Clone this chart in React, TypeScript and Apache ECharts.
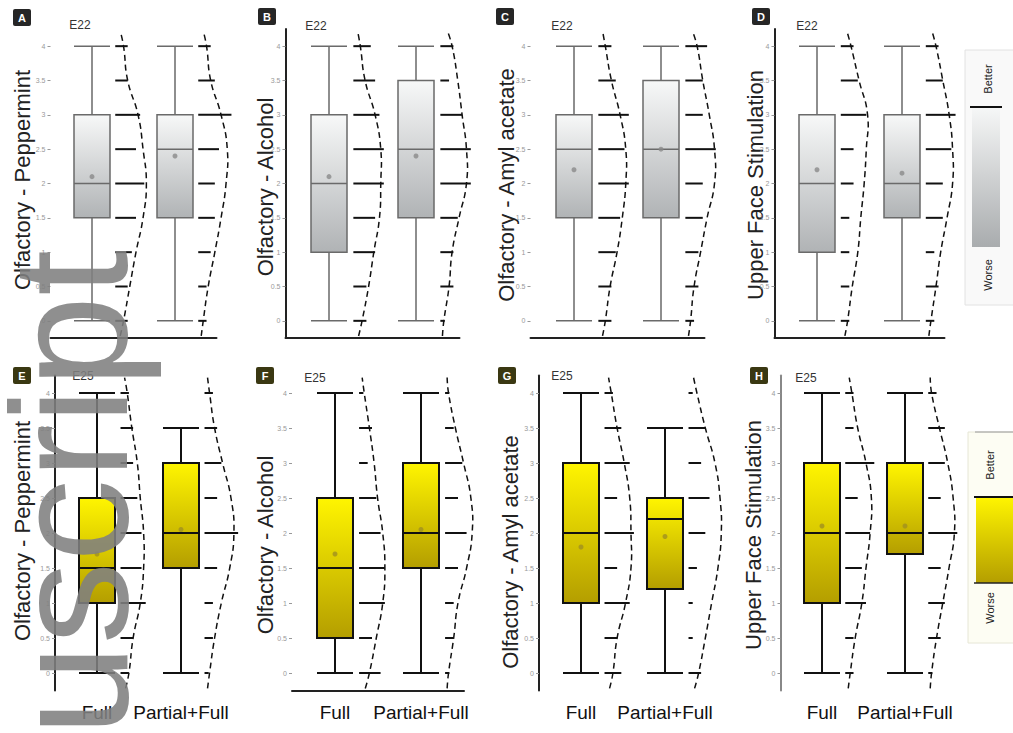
import React, { useEffect, useRef } from 'react';
import * as echarts from 'echarts';

// ---------- data ----------
const categories = ['Full', 'Partial+Full'];
const levels = [0, 0.5, 1, 1.5, 2, 2.5, 3, 3.5, 4];
const panelIds = ['A', 'B', 'C', 'D', 'E', 'F', 'G', 'H'];
const cohorts = ['E22', 'E22', 'E22', 'E22', 'E25', 'E25', 'E25', 'E25'];
const yTitles = [
  'Olfactory - Peppermint', 'Olfactory - Alcohol', 'Olfactory - Amyl acetate', 'Upper Face Stimulation',
  'Olfactory - Peppermint', 'Olfactory - Alcohol', 'Olfactory - Amyl acetate', 'Upper Face Stimulation',
];

// [min, Q1, median, Q3, max] for Full, Partial+Full
const boxA = [[0, 1.5, 2, 3, 4], [0, 1.5, 2.5, 3, 4]];
const boxB = [[0, 1, 2, 3, 4], [0, 1.5, 2.5, 3.5, 4]];
const boxC = [[0, 1.5, 2.5, 3, 4], [0, 1.5, 2.5, 3.5, 4]];
const boxD = [[0, 1, 2, 3, 4], [0, 1.5, 2, 3, 4]];
const boxE = [[0, 1, 1.5, 2.5, 4], [0, 1.5, 2, 3, 3.5]];
const boxF = [[0, 0.5, 1.5, 2.5, 4], [0, 1.5, 2, 3, 4]];
const boxG = [[0, 1, 2, 3, 4], [0, 1.2, 2.2, 2.5, 3.5]];
const boxH = [[0, 1, 2, 3, 4], [0, 1.7, 2, 3, 4]];

// means for Full, Partial+Full
const meanA = [2.1, 2.4];
const meanB = [2.1, 2.4];
const meanC = [2.2, 2.5];
const meanD = [2.2, 2.15];
const meanE = [1.7, 2.05];
const meanF = [1.7, 2.05];
const meanG = [1.8, 1.95];
const meanH = [2.1, 2.1];

// response frequency at each level (0..4 step 0.5) for Full, Partial+Full
const distA = [[3, 3, 4, 5, 7, 5, 6, 3, 3], [2, 2, 3, 4, 4, 5, 8, 4, 3]];
const distB = [[3, 3, 5, 5, 7, 7, 6, 5, 4], [1, 3, 3, 4, 7, 7, 5, 2, 3]];
const distC = [[3, 3, 4, 5, 7, 6, 7, 4, 3], [2, 3, 3, 4, 4, 7, 4, 4, 5]];
const distD = [[2, 2, 2, 2, 3, 3, 6, 4, 3], [2, 3, 2, 4, 4, 6, 7, 4, 3]];
const distE = [[2, 3, 6, 5, 5, 4, 3, 3, 2], [1, 2, 2, 3, 8, 3, 4, 3, 2]];
const distF = [[5, 3, 6, 6, 5, 4, 2, 3, 1], [1, 2, 2, 3, 5, 3, 4, 2, 1]];
const distG = [[4, 3, 6, 3, 7, 3, 6, 4, 2], [3, 1, 1, 2, 4, 5, 3, 4, 1]];
const distH = [[2, 2, 5, 4, 6, 3, 7, 2, 2], [1, 3, 4, 3, 7, 3, 4, 4, 2]];

// smoothed density envelope at each level, same units as the frequencies
const envA = [[2, 3.5, 5, 6.7, 7.5, 6.7, 5.5, 3, 2], [1.2, 2.4, 4, 5.5, 6.7, 7, 5.5, 3, 2]];
const envB = [[2, 3.5, 4.7, 6, 6.3, 6.3, 5, 2.7, 1.6], [0.8, 2, 2.7, 4.3, 6, 6, 5, 4, 2.7]];
const envC = [[1.6, 2.7, 4.3, 5.5, 6.3, 6.3, 5, 3, 1.6], [1.2, 2, 3.5, 5, 6.7, 6.7, 5.5, 4, 2.7]];
const envD = [[1.6, 2.7, 4, 4.7, 5.5, 6, 6.3, 4.3, 2.4], [1.2, 2.4, 3.5, 5, 6.3, 6.3, 5.5, 4, 2.4]];
const envE = [[2, 3, 4.7, 5.5, 5.5, 4.7, 4, 2.7, 1.6], [1.2, 2.4, 4, 6, 7, 6.3, 4.3, 2.4, 1.2]];
const envF = [[2.4, 4, 5.5, 6, 5.5, 4.3, 3.5, 2.4, 1.2], [0.8, 2, 3, 5, 6.3, 6, 4.3, 2.4, 0.8]];
const envG = [[2, 3, 5, 6.3, 6.3, 6, 4.7, 3, 1.6], [2.4, 4, 5.5, 7, 7.8, 7.5, 6.3, 4, 2]];
const envH = [[1.2, 2.4, 4, 5, 6, 6.3, 5, 3, 1.6], [0.8, 2, 3.5, 5, 6.3, 6, 4.7, 2.7, 0.8]];

const boxes = [boxA, boxB, boxC, boxD, boxE, boxF, boxG, boxH];
const means = [meanA, meanB, meanC, meanD, meanE, meanF, meanG, meanH];
const dists = [distA, distB, distC, distD, distE, distF, distG, distH];
const envs = [envA, envB, envC, envD, envE, envF, envG, envH];

// ---------- layout / style ----------
const layouts = [
  { left: 50.5, width: 166, row: 0, yLine: false, xLine: true, tx: 22, ty: 180, lx: 13, ly: 9, cx: 80, cy: 25 },
  { left: 285.5, width: 174, row: 0, yLine: true, xLine: true, tx: 265, ty: 187, lx: 258, ly: 8, cx: 316, cy: 26 },
  { left: 530.5, width: 174, row: 0, yLine: false, xLine: true, tx: 506, ty: 185, lx: 496, ly: 8, cx: 562, cy: 26 },
  { left: 774.5, width: 170, row: 0, yLine: true, xLine: true, tx: 755, ty: 185, lx: 752, ly: 8, cx: 807, cy: 26 },
  { left: 55, width: 168, row: 1, yLine: true, xLine: false, tx: 22, ty: 531, lx: 13, ly: 367, cx: 83, cy: 376 },
  { left: 292, width: 172, row: 1, yLine: false, xLine: true, tx: 265, ty: 545, lx: 256, ly: 367, cx: 315, cy: 378 },
  { left: 539, width: 168, row: 1, yLine: true, xLine: false, tx: 510, ty: 552, lx: 498, ly: 367, cx: 562, cy: 376 },
  { left: 780.5, width: 166, row: 1, yLine: true, xLine: false, tx: 753, ty: 535, lx: 750, ly: 367, cx: 806, cy: 378 },
];
const rows = [{ top: 29, height: 309 }, { top: 375.5, height: 315 }];
const OFFSET = 0.28;
const K = 0.05;
const FONT = '"Liberation Sans", Arial, sans-serif';

function boxGradient(stats: number[], row: number) {
  const [mn, q1, , q3, mx] = stats;
  const span = mx - mn || 1;
  const a = (mx - q3) / span;
  const b = (mx - q1) / span;
  const [c0, c1] = row === 0 ? ['#f7f8f8', '#b0b3b5'] : ['#fff500', '#b49e00'];
  return new echarts.graphic.LinearGradient(0, 0, 0, 1, [
    { offset: 0, color: c0 }, { offset: a, color: c0 }, { offset: b, color: c1 }, { offset: 1, color: c1 },
  ]);
}

function buildOption() {
  const grid: any[] = [];
  const xAxis: any[] = [];
  const yAxis: any[] = [];
  const series: any[] = [];
  const graphic: any[] = [];

  layouts.forEach((L, p) => {
    const R = rows[L.row];
    grid.push({ left: L.left, width: L.width, top: R.top, height: R.height });
    xAxis.push({
      type: 'category', gridIndex: p, data: categories, boundaryGap: true,
      axisLine: { show: L.xLine, onZero: false, lineStyle: { color: '#222', width: 2 } },
      axisTick: { show: false },
      axisLabel: { show: L.row === 1, interval: 0, fontSize: 19, color: '#111', margin: 12, fontFamily: FONT },
    });
    xAxis.push({ type: 'value', gridIndex: p, min: -0.5, max: 1.5, show: false });
    yAxis.push({
      type: 'value', gridIndex: p, min: -0.25, max: 4.25,
      axisLine: { show: L.yLine, onZero: false, lineStyle: { color: p === 7 ? '#888' : '#222', width: 2 } },
      axisTick: { show: true, customValues: levels, length: 3, lineStyle: { color: '#999' } },
      axisLabel: { customValues: levels, fontSize: 7, color: '#999', margin: 5, fontFamily: FONT },
      splitLine: { show: false },
    });

    const border = L.row === 0 ? '#6a6a6a' : '#111';
    series.push({
      type: 'boxplot', xAxisIndex: 2 * p, yAxisIndex: p,
      boxWidth: [36, 36],
      itemStyle: { borderColor: border, borderWidth: L.row === 0 ? 1.5 : 2 },
      data: boxes[p].map((b) => ({ value: b, itemStyle: { color: boxGradient(b, L.row), borderColor: border } })),
    });
    series.push({
      type: 'scatter', xAxisIndex: 2 * p, yAxisIndex: p, symbolSize: 5,
      itemStyle: { color: L.row === 0 ? '#8a8a8a' : '#a09020' },
      data: means[p].map((m, i) => [i, m]),
    });
    // frequency dashes
    const dashData: number[][] = [];
    dists[p].forEach((d, i) => d.forEach((c, j) => dashData.push([i + OFFSET, levels[j], c * K])));
    series.push({
      type: 'custom', xAxisIndex: 2 * p + 1, yAxisIndex: p, clip: false,
      data: dashData,
      renderItem: (params: any, api: any) => {
        const x0 = api.value(0);
        const y = api.value(1);
        const len = api.value(2);
        const p0 = api.coord([x0, y]);
        const p1 = api.coord([x0 + len, y]);
        return {
          type: 'line',
          shape: { x1: p0[0], y1: p0[1], x2: p1[0], y2: p1[1] },
          style: { stroke: '#111', lineWidth: 2 },
        };
      },
    });
    // dashed density envelope
    const envData: number[][] = [];
    envs[p].forEach((d, i) => d.forEach((c, j) => envData.push([i, levels[j], c])));
    series.push({
      type: 'custom', xAxisIndex: 2 * p + 1, yAxisIndex: p, clip: false,
      data: envData,
      renderItem: (params: any, api: any) => {
        const idx = params.dataIndex;
        if (idx % levels.length !== 0) return null;
        const pts: number[][] = [];
        const cat = api.value(0, idx);
        const first = api.value(2, idx);
        pts.push(api.coord([cat + OFFSET + first * K * 0.6, -0.22]));
        let last = first;
        for (let j = 0; j < levels.length; j++) {
          const v = api.value(2, idx + j);
          last = v;
          pts.push(api.coord([cat + OFFSET + v * K, api.value(1, idx + j)]));
        }
        pts.push(api.coord([cat + OFFSET + last * K * 0.6, 4.22]));
        return {
          type: 'polyline',
          shape: { points: pts, smooth: 0.5 },
          style: { stroke: '#111', lineWidth: 1.5, lineDash: [6, 4], fill: null },
        };
      },
    });

    // panel letter
    graphic.push({
      type: 'rect', left: L.lx, top: L.ly, shape: { width: 18, height: 17, r: 2 },
      style: { fill: L.row === 0 ? '#262626' : '#3a3812' },
    });
    graphic.push({
      type: 'text', x: L.lx + 9, y: L.ly + 8.5,
      style: { text: panelIds[p], fill: '#fff', font: `bold 11px ${FONT}`, textAlign: 'center', textVerticalAlign: 'middle' },
    });
    graphic.push({
      type: 'text', x: L.cx, y: L.cy,
      style: { text: cohorts[p], fill: '#333', font: `12px ${FONT}`, textAlign: 'center', textVerticalAlign: 'middle' },
    });
    graphic.push({
      type: 'text', x: L.tx, y: L.ty, rotation: Math.PI / 2,
      style: { text: yTitles[p], fill: '#222', font: `22px ${FONT}`, textAlign: 'center', textVerticalAlign: 'middle' },
    });
  });

  // legend bars (Better / Worse)
  graphic.push({
    type: 'rect', shape: { x: 965, y: 50, width: 60, height: 255 },
    style: { fill: 'rgba(246,246,246,0.7)', stroke: '#e2e2e2', lineWidth: 1 }, z: 1,
  });
  graphic.push({
    type: 'rect', shape: { x: 972, y: 107, width: 28, height: 140 },
    style: {
      fill: new echarts.graphic.LinearGradient(0, 0, 0, 1, [{ offset: 0, color: '#f6f7f7' }, { offset: 1, color: '#a9acae' }]),
    }, z: 2,
  });
  graphic.push({ type: 'line', shape: { x1: 970, y1: 107, x2: 1002, y2: 107 }, style: { stroke: '#111', lineWidth: 2 }, z: 3 });
  graphic.push({
    type: 'rect', shape: { x: 968, y: 432, width: 50, height: 211 },
    style: { fill: 'rgba(253,253,240,0.8)', stroke: '#e6e6d6', lineWidth: 1 }, z: 1,
  });
  graphic.push({ type: 'line', shape: { x1: 975, y1: 432, x2: 1013, y2: 432 }, style: { stroke: '#999', lineWidth: 1 }, z: 3 });
  graphic.push({
    type: 'rect', shape: { x: 976, y: 497, width: 40, height: 86 },
    style: {
      fill: new echarts.graphic.LinearGradient(0, 0, 0, 1, [{ offset: 0, color: '#fff500' }, { offset: 1, color: '#b49e00' }]),
    }, z: 2,
  });
  graphic.push({ type: 'line', shape: { x1: 974, y1: 497, x2: 1013, y2: 497 }, style: { stroke: '#111', lineWidth: 2 }, z: 3 });
  graphic.push({ type: 'line', shape: { x1: 974, y1: 583, x2: 1013, y2: 583 }, style: { stroke: '#222', lineWidth: 1.5 }, z: 3 });
  [
    ['Better', 988, 79], ['Worse', 988, 275], ['Better', 990, 465], ['Worse', 990, 608],
  ].forEach(([t, x, y]) => {
    graphic.push({
      type: 'text', x, y, rotation: Math.PI / 2, z: 3,
      style: { text: t, fill: '#222', font: `11px ${FONT}`, textAlign: 'center', textVerticalAlign: 'middle' },
    });
  });

  // watermark
  graphic.push({
    type: 'text', x: 70, y: 250, rotation: Math.PI / 2, z: 100,
    style: {
      text: 'uscript', fill: 'rgba(128,128,128,0.88)', font: `165px ${FONT}`,
      textAlign: 'right', textVerticalAlign: 'middle',
    },
  });

  return {
    animation: false,
    backgroundColor: '#ffffff',
    grid, xAxis, yAxis, series, graphic,
  };
}

export default function App() {
  const ref = useRef<HTMLDivElement>(null);
  useEffect(() => {
    if (!ref.current) return;
    const chart = echarts.init(ref.current, undefined, { renderer: 'svg' });
    chart.setOption(buildOption() as any);
    return () => chart.dispose();
  }, []);
  return <div ref={ref} style={{ position: 'absolute', left: 0, top: 0, width: 1013, height: 733 }} />;
}
